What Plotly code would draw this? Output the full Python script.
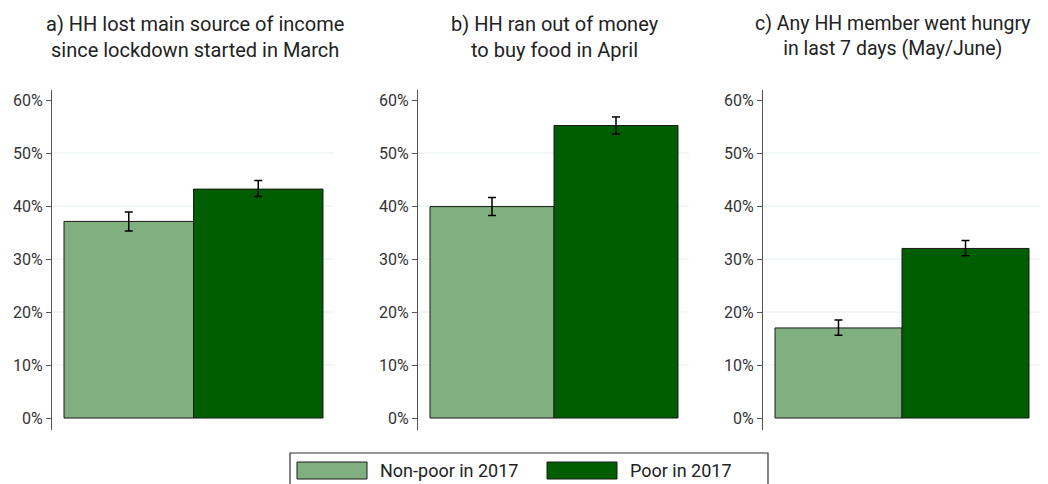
import plotly.graph_objects as go

titles = [
    "a) HH lost main source of income<br>since lockdown started in March",
    "b) HH ran out of money<br>to buy food in April",
    "c) Any HH member went hungry<br>in last 7 days (May/June)",
]
groups = ["Non-poor in 2017", "Poor in 2017"]
nonpoor = [37.1, 39.9, 17.0]
nonpoor_lo = [35.3, 38.2, 15.6]
nonpoor_hi = [38.9, 41.6, 18.5]
poor = [43.2, 55.2, 32.0]
poor_lo = [41.8, 53.6, 30.6]
poor_hi = [44.8, 56.8, 33.5]
yticks = [0, 10, 20, 30, 40, 50, 60]
ytext = ["0%", "10%", "20%", "30%", "40%", "50%", "60%"]
colors = ["#80b080", "#005e00"]

# page body has an 8px margin, so the figure is drawn 8px smaller
OFF = 8
W, H = 1048 - OFF, 484 - OFF
FONT = "Roboto"


def px(x):
    return (x - OFF) / W


def py(y):
    return 1 - (y - OFF) / H


# pixel positions of each panel's axis area (left axis line, right end of grid)
panels = [(52, 334), (418, 689), (763, 1040)]
title_x = [195, 555, 893]
title_size = [20, 20, 19.5]

fig = go.Figure()
for i in range(3):
    xa = "x" if i == 0 else f"x{i+1}"
    ya = "y" if i == 0 else f"y{i+1}"
    series = [
        (nonpoor[i], nonpoor_lo[i], nonpoor_hi[i]),
        (poor[i], poor_lo[i], poor_hi[i]),
    ]
    for j, (v, lo, hi) in enumerate(series):
        fig.add_trace(go.Bar(
            x=[j], y=[v], width=1, name=groups[j],
            marker=dict(color=colors[j], line=dict(color="#1a1a1a", width=1)),
            error_y=dict(type="data", symmetric=False, array=[hi - v], arrayminus=[v - lo],
                         color="black", thickness=1.5, width=4),
            xaxis=xa, yaxis=ya, showlegend=False,
        ))
    l, r = panels[i]
    bar_left = l + 12
    unit = (r - 11 - bar_left) / 2.0
    x0 = -0.5 - (bar_left - l) / unit
    x1 = 1.5 + 11 / unit
    kx = "xaxis" if i == 0 else f"xaxis{i+1}"
    ky = "yaxis" if i == 0 else f"yaxis{i+1}"
    fig.layout[kx] = dict(domain=[px(l), px(r)], range=[x0, x1], showticklabels=False,
                          showgrid=False, zeroline=False, showline=False, anchor=ya)
    fig.layout[ky] = dict(domain=[py(430), py(90)], range=[-2.26, 61.9],
                          tickvals=yticks, ticktext=ytext, ticks="outside", ticklen=5,
                          tickcolor="#555", showline=True, linecolor="#555", linewidth=1.2,
                          showgrid=False, zeroline=False, anchor=xa,
                          tickfont=dict(size=16, color="#333", family=FONT))
    for g in yticks[1:-1]:
        fig.add_shape(type="line", xref=f"{xa} domain", yref=ya, x0=0, x1=1, y0=g, y1=g,
                      line=dict(color="#e6eef0", width=1), layer="below")
    fig.add_annotation(text=titles[i], xref="paper", yref="paper",
                       x=px(title_x[i]), y=py(10), xanchor="center", yanchor="top",
                       showarrow=False, font=dict(size=title_size[i], color="#222", family=FONT))

# legend box
fig.add_shape(type="rect", xref="paper", yref="paper", x0=px(290), x1=px(768),
              y0=py(500), y1=py(453), line=dict(color="#333", width=1.2), fillcolor="white")
for j, (sx, tx) in enumerate([(297, 378), (547, 628)]):
    fig.add_shape(type="rect", xref="paper", yref="paper", x0=px(sx), x1=px(sx + 70),
                  y0=py(479), y1=py(462), fillcolor=colors[j],
                  line=dict(color="#1a1a1a", width=1))
    fig.add_annotation(text=groups[j], xref="paper", yref="paper", x=px(tx), y=py(470.5),
                       xanchor="left", yanchor="middle", showarrow=False,
                       font=dict(size=18, color="#222", family=FONT))

fig.update_layout(width=W, height=H, margin=dict(l=0, r=0, t=0, b=0),
                  plot_bgcolor="white", paper_bgcolor="white", barmode="overlay",
                  font=dict(family=FONT))
fig.write_html("out.html")
